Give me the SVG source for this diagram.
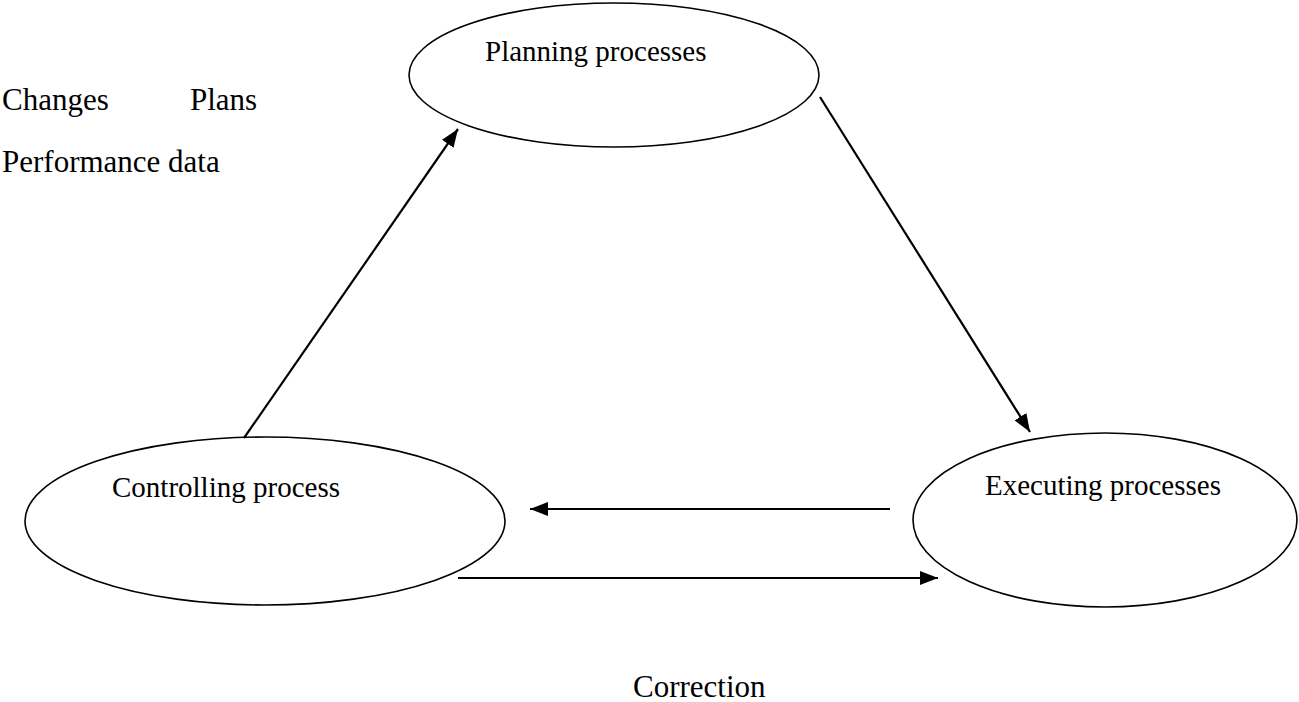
<svg xmlns="http://www.w3.org/2000/svg" width="1299" height="702" viewBox="0 0 1299 702">
<style>
.node ellipse{fill:#fff;stroke:#000;stroke-width:1.6}
.lbl{font-family:"Liberation Serif","Times New Roman",serif;font-size:29px;fill:#000}
.txt{font-family:"Liberation Serif","Times New Roman",serif;font-size:31px;fill:#000}
.conn line{stroke:#000;stroke-width:2.2;fill:none}
</style>
<defs>
<marker id="ah" markerUnits="userSpaceOnUse" markerWidth="20" markerHeight="14" refX="18" refY="7" orient="auto">
<path d="M0,0 L18,7 L0,14 Z" fill="#000"/>
</marker>
</defs>
<rect width="1299" height="702" fill="#fff"/>
<g id="planning" class="node">
<ellipse cx="614" cy="75" rx="205" ry="72"/>
<text class="lbl" x="485" y="61">Planning processes</text>
</g>
<g id="executing" class="node">
<ellipse cx="1105" cy="520" rx="192" ry="87"/>
<text class="lbl" x="985" y="495">Executing processes</text>
</g>
<g id="controlling" class="node">
<ellipse cx="265" cy="521" rx="240" ry="84"/>
<text class="lbl" x="112" y="497">Controlling process</text>
</g>
<g id="labels">
<text class="txt" x="2" y="110">Changes</text>
<text class="txt" x="190" y="110">Plans</text>
<text class="txt" x="2" y="172">Performance data</text>
<text class="txt" x="633" y="697">Correction</text>
</g>
<g id="connectors" class="conn">
<line x1="244" y1="438" x2="458" y2="129" marker-end="url(#ah)"/>
<line x1="820" y1="97" x2="1030" y2="432" marker-end="url(#ah)"/>
<line x1="890" y1="509" x2="530" y2="509" marker-end="url(#ah)"/>
<line x1="458" y1="578" x2="938" y2="578" marker-end="url(#ah)"/>
</g>
</svg>
